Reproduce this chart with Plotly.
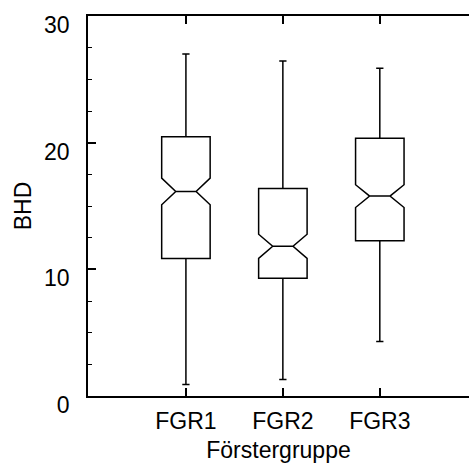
import plotly.graph_objects as go

categories = ["FGR1", "FGR2", "FGR3"]
positions = [1, 2, 3]
lower_whisker = [0.9, 1.3, 4.3]
q1 = [10.85, 9.3, 12.25]
median = [16.15, 11.82, 15.78]
q3 = [20.47, 16.39, 20.34]
upper_whisker = [27.0, 26.45, 25.87]
notch_span = [1.05, 0.95, 0.9]

y_ticks = [0, 10, 20, 30]

fig = go.Figure()
for i, name in enumerate(categories):
    fig.add_trace(go.Box(
        x=[positions[i]],
        q1=[q1[i]], median=[median[i]], q3=[q3[i]],
        lowerfence=[lower_whisker[i]], upperfence=[upper_whisker[i]],
        notchspan=[notch_span[i]],
        notched=True, notchwidth=0.29,
        width=0.5, whiskerwidth=0.15,
        name=name,
        line=dict(color="black", width=1.5),
        fillcolor="rgba(0,0,0,0)",
        boxpoints=False,
        showlegend=False,
    ))

font = dict(family="Liberation Sans, Arial, sans-serif", size=23, color="black")

fig.update_layout(
    width=469, height=469,
    margin=dict(l=88, r=0, t=16, b=73),
    paper_bgcolor="white", plot_bgcolor="white",
    font=font,
    xaxis=dict(
        range=[-0.01, 3.92],
        tickvals=positions, ticktext=categories,
        ticks="inside", ticklen=8, tickwidth=1.5, tickcolor="black",
        showline=True, linecolor="black", linewidth=1.5,
        mirror="ticks", showgrid=False, zeroline=False,
        title=dict(text="Förstergruppe", font=font, standoff=9),
        ticklabelstandoff=4,
        tickfont=font,
        automargin=False,
    ),
    yaxis=dict(
        range=[0, 30],
        tickvals=y_ticks,
        ticks="inside", ticklen=8, tickwidth=1.5, tickcolor="black",
        minor=dict(dtick=2.5, ticks="inside", ticklen=4, tickwidth=1.2, tickcolor="black"),
        showline=True, linecolor="black", linewidth=1.5,
        mirror=False, showgrid=False, zeroline=False,
        title=dict(text="BHD", font=font, standoff=6),
        ticklabelstandoff=12,
        ticklabelshift=9,
        ticklabeloverflow="allow",
        tickfont=font,
        automargin=False,
    ),
)

fig.write_html("out.html")
